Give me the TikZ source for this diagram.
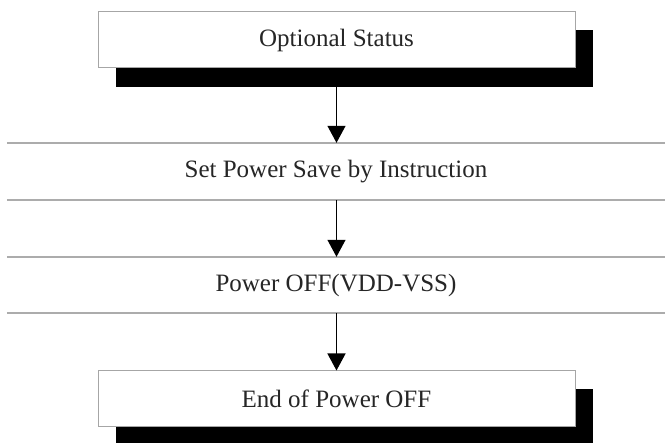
\documentclass[tikz,border=0pt]{standalone}
\usepackage{fontspec}
\setmainfont{Liberation Serif}
\usetikzlibrary{arrows.meta}
\begin{document}
\begin{tikzpicture}[x=1pt,y=-1pt,
  font=\fontsize{25}{30}\selectfont,
  shadowbox/.style={fill=black,draw=none,inner sep=0pt,minimum width=477pt,minimum height=57pt},
  termbox/.style={fill=white,draw=gray!70,line width=1pt,inner sep=0pt,minimum width=477pt,minimum height=56pt,text=black!85},
  bandbox/.style={fill=white,draw=none,inner sep=0pt,minimum width=658pt,text=black!85},
  bandline/.style={draw=gray!65,line width=1.6pt},
  arr/.style={draw=black,line width=1.3pt,-{Triangle[width=18pt,length=17pt]}}]
\useasboundingbox (0,0) rectangle (665,443);
% box 1
\node[shadowbox] (s1) at (354.5,58.5) {};
\node[termbox] (b1) at (336.5,40) {Optional Status};
% box 2
\node[bandbox,minimum height=57pt] (b2) at (336,171.5) {Set Power Save by Instruction};
\draw[bandline] (b2.north west) -- (b2.north east);
\draw[bandline] (b2.south west) -- (b2.south east);
% box 3
\node[bandbox,minimum height=56pt] (b3) at (336,285) {Power OFF(VDD-VSS)};
\draw[bandline] (b3.north west) -- (b3.north east);
\draw[bandline] (b3.south west) -- (b3.south east);
% box 4
\node[shadowbox] (s4) at (354.5,417.5) {};
\node[termbox] (b4) at (336.5,399) {End of Power OFF};
% arrows
\draw[arr] (s1.south -| b1.south) -- (b2.north -| b1.south);
\draw[arr] (b2.south -| b1.south) -- (b3.north -| b1.south);
\draw[arr] (b3.south -| b1.south) -- (b4.north);
\end{tikzpicture}
\end{document}
